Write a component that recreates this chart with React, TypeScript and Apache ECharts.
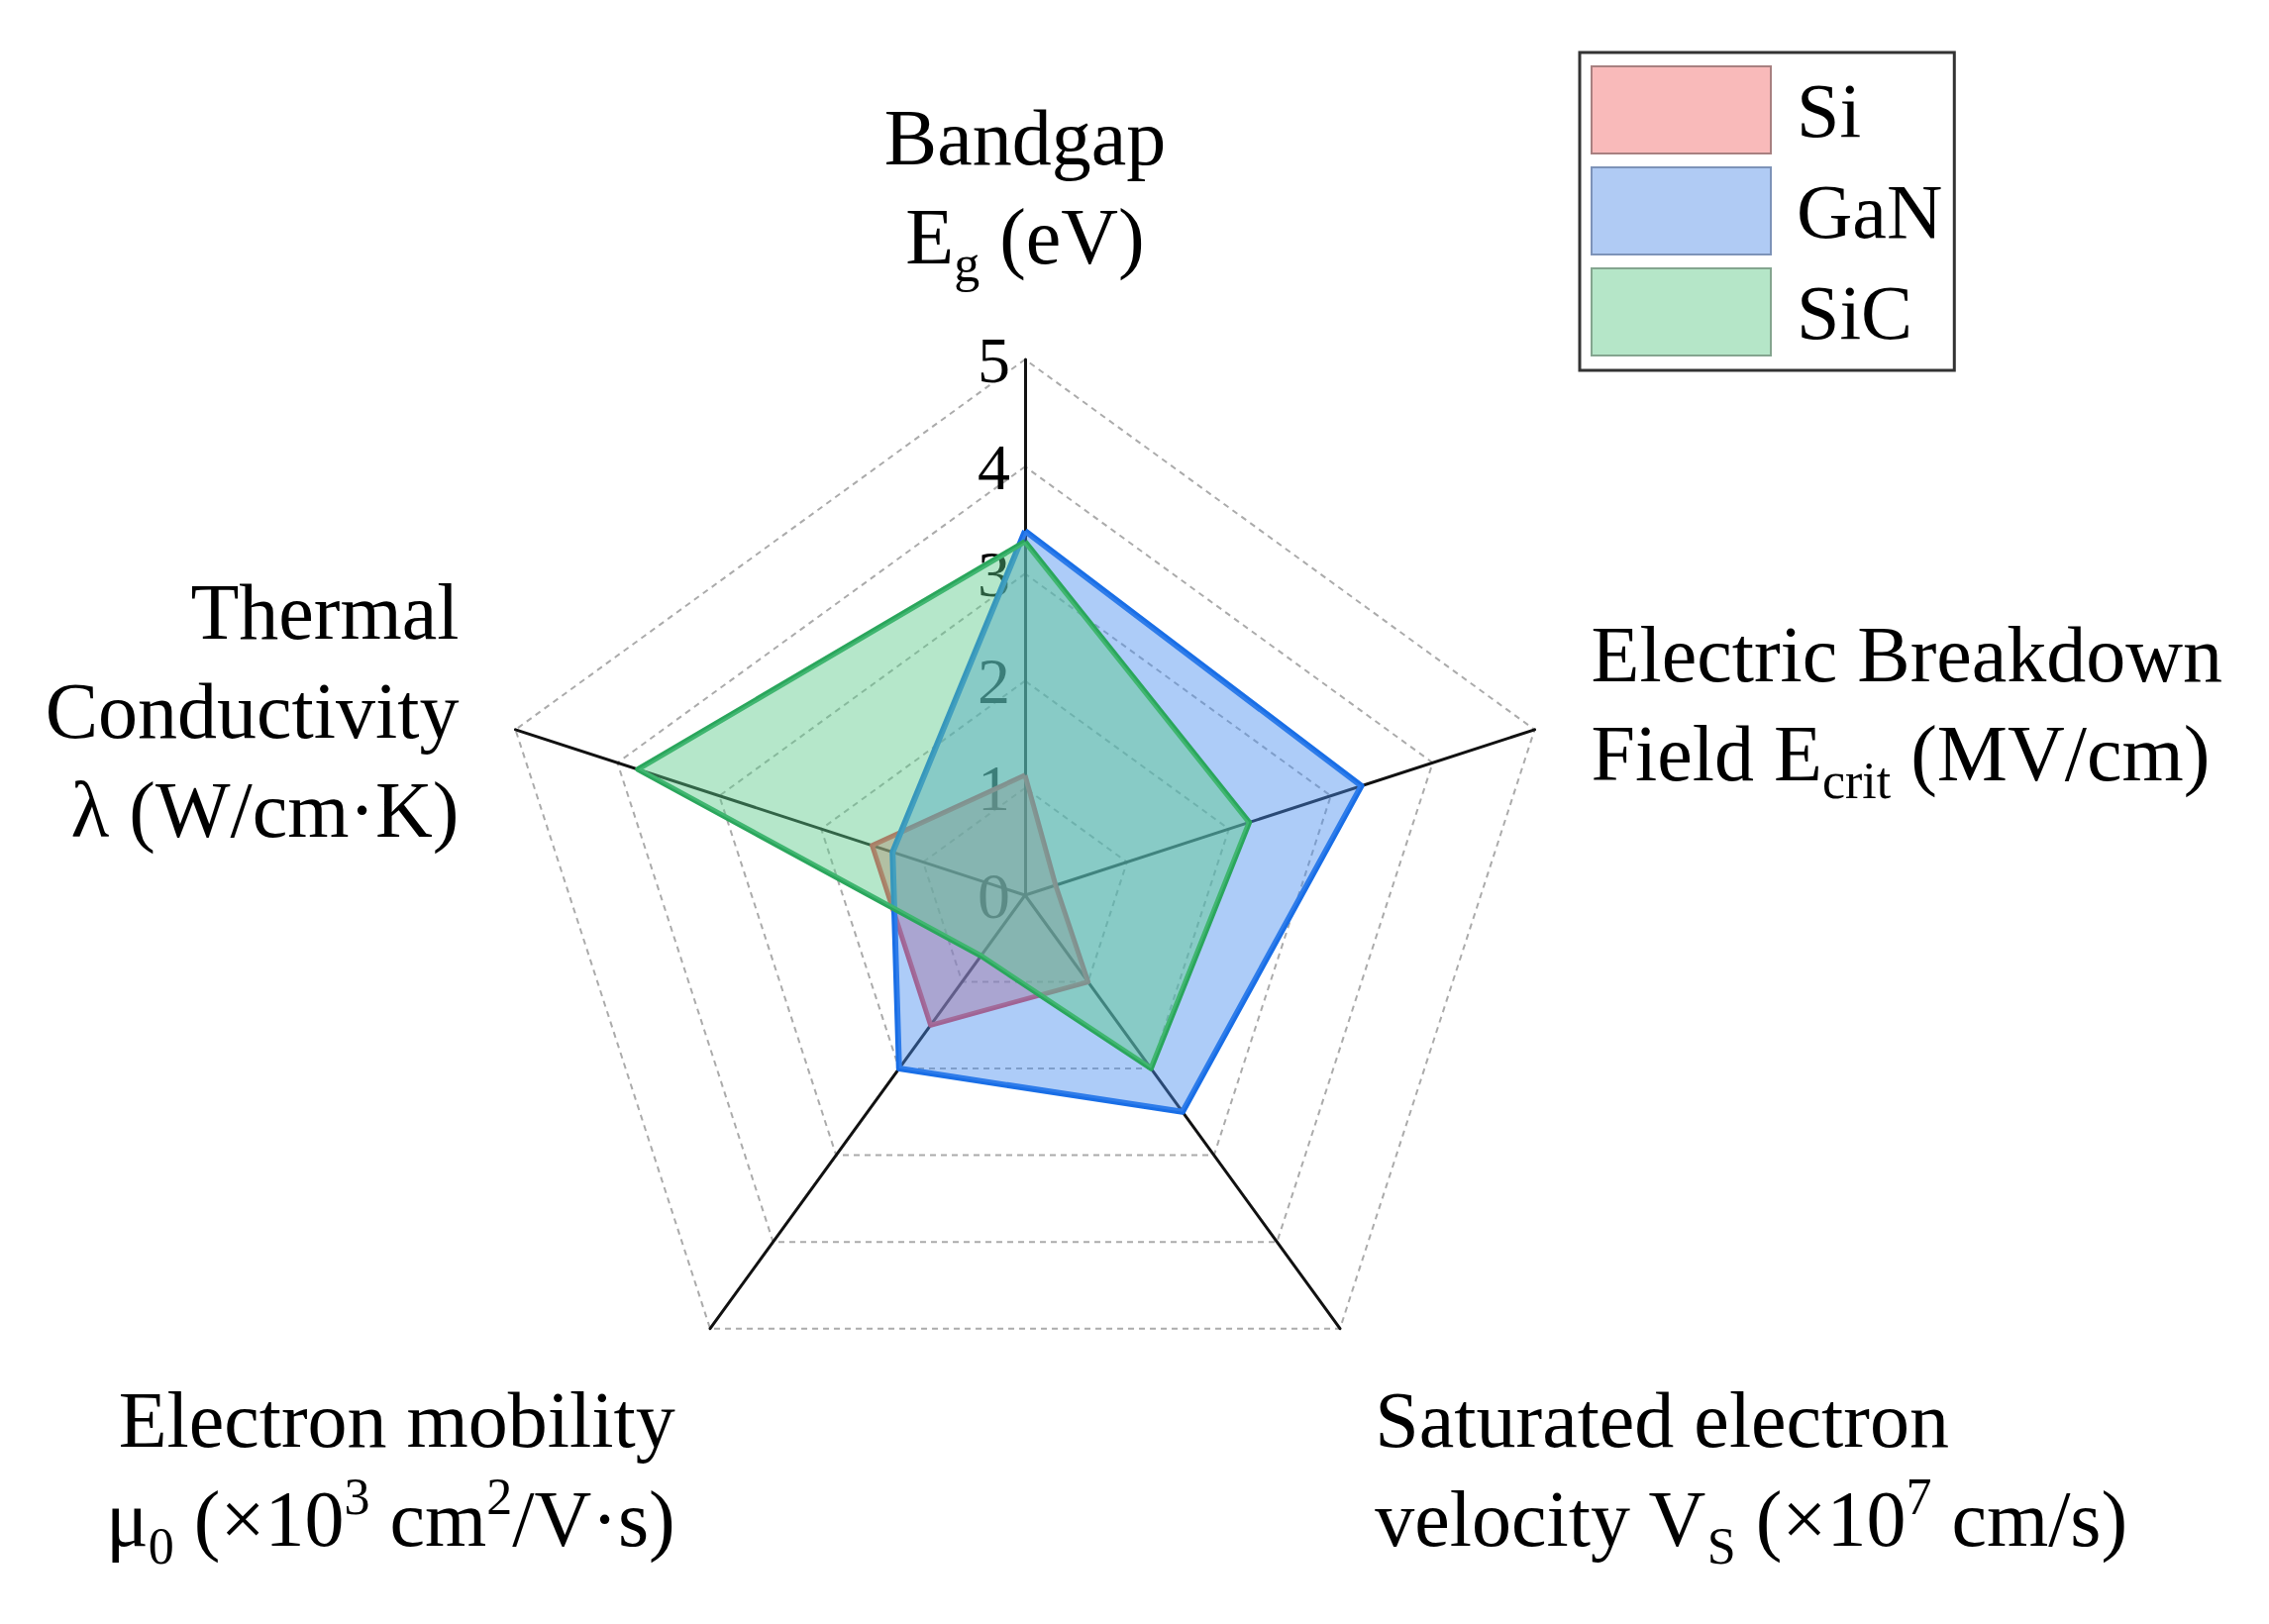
import React, { useEffect, useRef } from "react";
import * as echarts from "echarts";

const indicatorNames = [
  "Bandgap",
  "Thermal Conductivity",
  "Electron mobility",
  "Saturated electron velocity",
  "Electric Breakdown Field",
];
const axisMax = 5;
const splitCount = 5;
const materials = ["Si", "GaN", "SiC"];
const siValues = [1.12, 1.5, 1.5, 1.0, 0.3];
const ganValues = [3.4, 1.3, 2.0, 2.5, 3.3];
const sicValues = [3.3, 3.8, 0.7, 2.0, 2.2];

const nameLabels: Record<string, string> = {
  "Bandgap": "{n|Bandgap}\n{n|E}{sub|g}{n| (eV)}\n{tail| }",
  "Thermal Conductivity": "{n|Thermal}\n{n|Conductivity}\n{n|λ (W/cm·K)}",
  "Electron mobility":
    "{sp| }\n{n|Electron mobility}\n{n|μ}{sub|0}{n| (×10}{sup|3}{n| cm}{sup|2}{n|/V·s)}",
  "Saturated electron velocity":
    "{sp| }\n{n|Saturated electron}\n{n|velocity V}{sub|S}{n| (×10}{sup|7}{n| cm/s)}",
  "Electric Breakdown Field":
    "{n|Electric Breakdown}\n{n|Field E}{sub|crit}{n| (MV/cm)}\n{tail| }",
};

const FONT = "'Liberation Serif', 'Times New Roman', Times, serif";

export default function App() {
  const ref = useRef<HTMLDivElement>(null);
  useEffect(() => {
    if (!ref.current) return;
    const chart = echarts.init(ref.current, undefined, { renderer: "svg" });
    const option: any = {
      animation: false,
      backgroundColor: "#ffffff",
      legend: {
        orient: "vertical",
        left: 1595,
        top: 53,
        padding: [13, 12, 14, 11],
        itemGap: 12,
        itemWidth: 181,
        itemHeight: 88,
        icon: "rect",
        borderColor: "#333333",
        borderWidth: 3,
        backgroundColor: "#ffffff",
        selectedMode: false,
        textStyle: {
          fontFamily: FONT,
          fontSize: 78,
          color: "#000000",
          padding: [0, 0, 0, 21],
        },
        data: [
          { name: materials[0], itemStyle: { color: "#f9baba", borderColor: "#a88080", borderWidth: 2 } },
          { name: materials[1], itemStyle: { color: "#b0cbf4", borderColor: "#7d93b8", borderWidth: 2 } },
          { name: materials[2], itemStyle: { color: "#b5e6c8", borderColor: "#84a58f", borderWidth: 2 } },
        ],
      },
      radar: {
        center: [1035, 904],
        radius: 541,
        startAngle: 90,
        splitNumber: splitCount,
        shape: "polygon",
        nameGap: 60,
        indicator: indicatorNames.map((n, i) =>
          i === 0
            ? { name: n, min: 0, max: axisMax }
            : { name: n, min: 0, max: axisMax, axisLabel: { show: false } }
        ),
        axisName: {
          color: "#000000",
          fontFamily: FONT,
          fontSize: 80,
          lineHeight: 100,
          formatter: (name: string) => nameLabels[name] || name,
          rich: {
            n: { fontFamily: FONT, fontSize: 80, lineHeight: 100, color: "#000" },
            sub: { fontFamily: FONT, fontSize: 52, lineHeight: 100, color: "#000", padding: [55, 0, 0, 0] },
            sup: { fontFamily: FONT, fontSize: 52, lineHeight: 100, color: "#000", padding: [0, 0, 45, 0] },
            sp: { fontFamily: FONT, fontSize: 10, lineHeight: 188, color: "#000" },
            tail: { fontFamily: FONT, fontSize: 10, lineHeight: 14, color: "#000" },
          },
        },
        axisLine: { show: true, lineStyle: { color: "#111111", width: 3 } },
        axisTick: { show: false },
        axisLabel: {
          show: true,
          color: "#000000",
          fontFamily: FONT,
          fontSize: 66,
          margin: 15,
        },
        splitLine: {
          show: true,
          lineStyle: { color: "#ababab", width: 2, type: [6, 5] },
        },
        splitArea: { show: false },
      },
      series: [
        {
          type: "radar",
          symbol: "none",
          data: [
            {
              name: materials[0],
              value: siValues,
              lineStyle: { color: "#e8404a", width: 5 },
              itemStyle: { color: "#f9baba" },
              areaStyle: { color: "rgba(242, 99, 99, 0.45)", opacity: 1 },
            },
            {
              name: materials[1],
              value: ganValues,
              lineStyle: { color: "#196ee6", width: 6 },
              itemStyle: { color: "#b0cbf4" },
              areaStyle: { color: "rgba(74, 143, 240, 0.45)", opacity: 1 },
            },
            {
              name: materials[2],
              value: sicValues,
              lineStyle: { color: "#2aa65c", width: 5.5 },
              itemStyle: { color: "#b5e6c8" },
              areaStyle: { color: "rgba(92, 201, 138, 0.45)", opacity: 1 },
            },
          ],
        },
      ],
    };
    chart.setOption(option);
    return () => chart.dispose();
  }, []);
  return (
    <div
      ref={ref}
      style={{ position: "absolute", left: 0, top: 0, width: 2291, height: 1640, background: "#fff" }}
    />
  );
}
